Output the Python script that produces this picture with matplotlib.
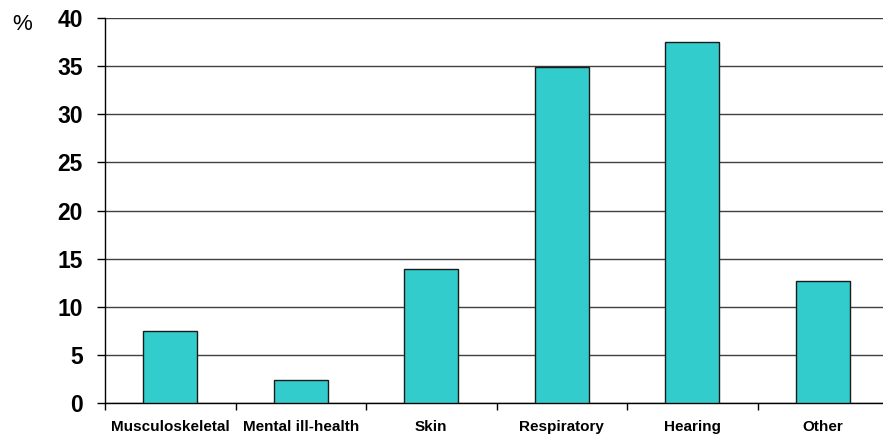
import matplotlib
matplotlib.use("Agg")
import matplotlib.pyplot as plt
import numpy as np

categories = ["Musculoskeletal", "Mental ill-health", "Skin", "Respiratory", "Hearing", "Other"]
values = [7.5, 2.4, 13.9, 34.9, 37.5, 12.7]
yticks = [0, 5, 10, 15, 20, 25, 30, 35, 40]

plt.rcParams['font.family'] = ['Liberation Sans', 'DejaVu Sans']

fig = plt.figure(figsize=(8.83, 4.41), dpi=100)
ax = fig.add_axes([105/883, 38/441, 783/883, 385/441])

x = np.arange(len(categories))
ax.bar(x, values, width=0.41, color="#33CCCC", edgecolor="#1a1a1a", linewidth=1.0, zorder=3)

ax.set_xlim(-0.5, len(categories) - 0.5)
ax.set_ylim(0, 40)
ax.set_yticks(yticks)
ax.set_yticklabels([str(v) for v in yticks], fontsize=16.5, fontweight="bold")
ax.yaxis.grid(True, color="#404040", linewidth=1.0, zorder=0)
ax.set_axisbelow(True)

ax.set_xticks(x)
ax.set_xticklabels(categories, fontsize=11, fontweight="bold")
ax.tick_params(axis="x", length=0, pad=12)
ax.set_xticks(np.arange(len(categories) + 1) - 0.5, minor=True)
ax.tick_params(axis="x", which="minor", length=5, width=1, color="black")
ax.tick_params(axis="y", length=6, width=1, color="black", pad=10)

for s in ["top", "right"]:
    ax.spines[s].set_visible(False)
ax.spines["left"].set_linewidth(1.0)
ax.spines["bottom"].set_linewidth(1.0)

fig.text(22/883, 1 - 24/441, "%", fontsize=16, ha="center", va="center")

fig.savefig("out.png", dpi=100)
